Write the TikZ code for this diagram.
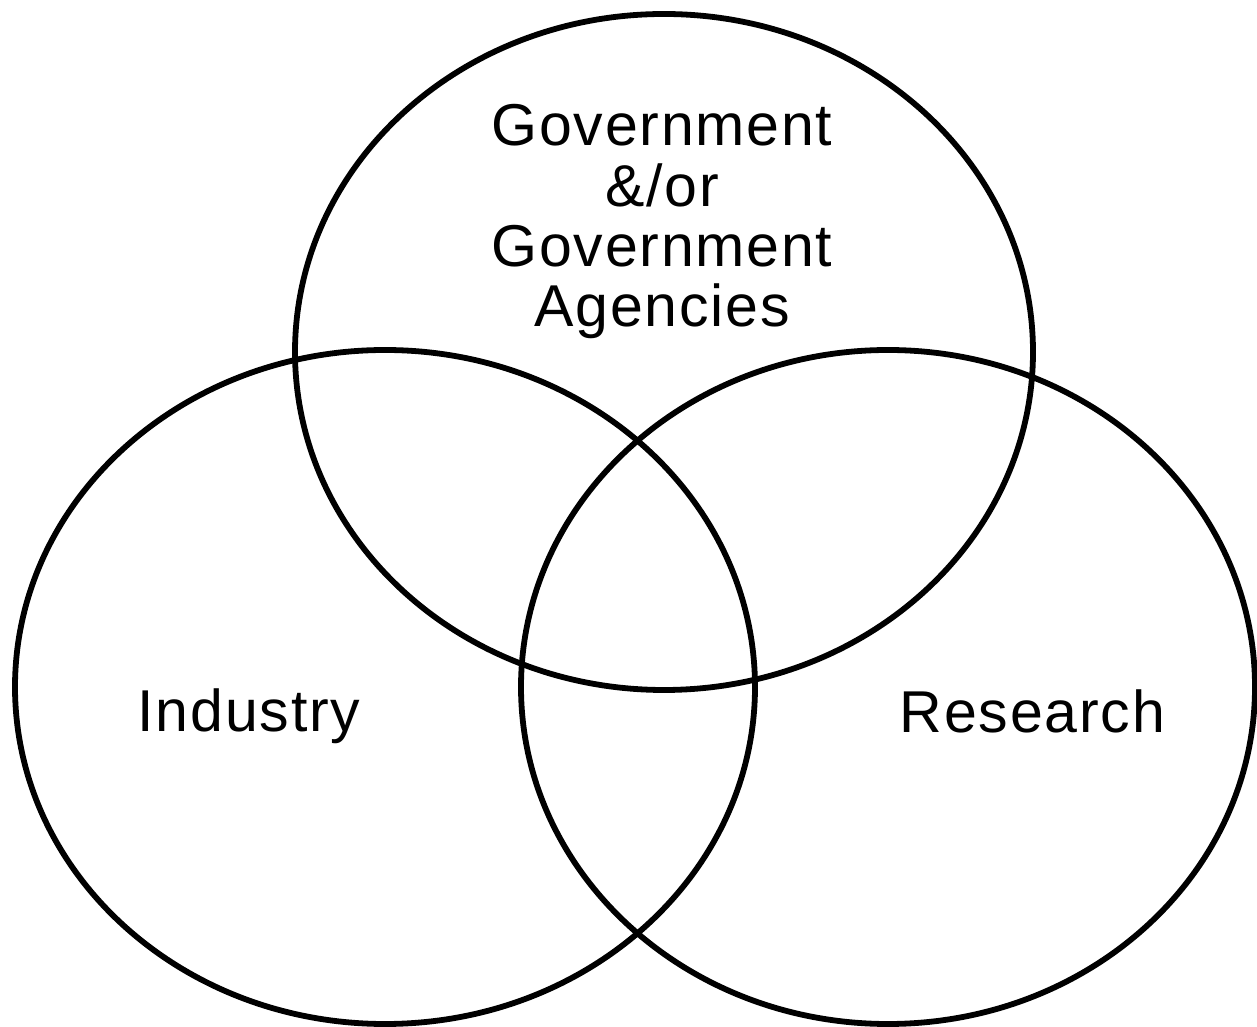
\documentclass[tikz,border=0pt]{standalone}
\usepackage{fontspec}
\setmainfont{Liberation Sans}[LetterSpace=3]
\usetikzlibrary{positioning}
\usetikzlibrary{calc}

\begin{document}
\begin{tikzpicture}[set/.style={draw=black,line width=3.3pt},
		label/.style={inner sep=0pt,align=center,font=\fontsize{33.6}{34.4}\selectfont}]
		\useasboundingbox (0,0) rectangle (25.14,20.52);
		% the three sets
		\coordinate (govc) at (13.28,13.48);
		\coordinate (indc) at (7.70,6.78);
		\coordinate (resc) at (17.76,6.78);
		\draw[set] (govc) ellipse [x radius=7.38, y radius=6.76];
		\draw[set] (indc) ellipse [x radius=7.40, y radius=6.74];
		\draw[set] (resc) ellipse [x radius=7.34, y radius=6.74];
		% labels
		\node[label,anchor=north] (gov) at (13.24,18.44) {Government\\ \&/or\\ Government\\ Agencies};
		\node[label,anchor=base] (ind) at (4.98,5.88) {Industry};
		\node[label,anchor=base] (res) at (20.65,5.86) {Research};
\end{tikzpicture}
\end{document}
